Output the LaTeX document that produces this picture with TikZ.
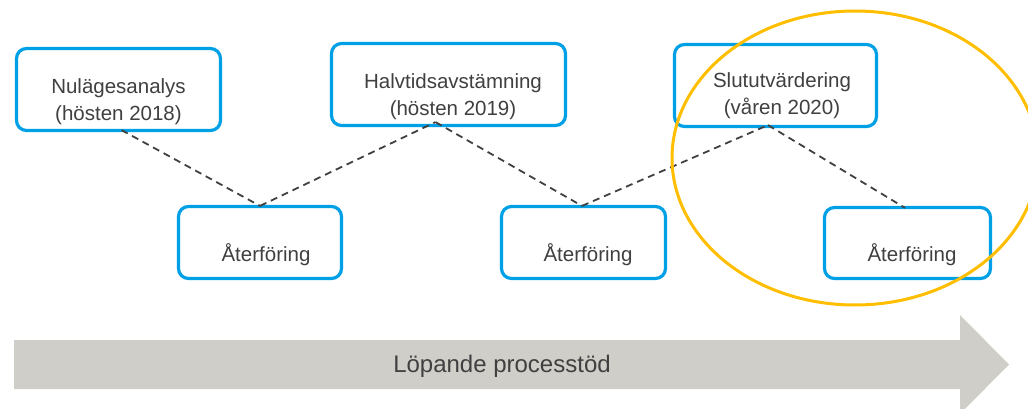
\documentclass[tikz,border=0pt]{standalone}
\usepackage{fontspec}
\setmainfont{Liberation Sans}
\usetikzlibrary{calc}
\definecolor{boxblue}{RGB}{0,160,230}
\definecolor{txtgray}{RGB}{64,64,64}
\definecolor{arrowgray}{RGB}{208,206,201}
\definecolor{ringyellow}{RGB}{255,190,0}
\tikzset{
  phase/.style={draw=boxblue, line width=3.2pt, rounded corners=10pt, fill=white},
  phasetext/.style={text=txtgray, font=\fontsize{20.5}{27}\selectfont, align=center, inner sep=0pt},
  link/.style={draw=txtgray, line width=1.8pt, dash pattern=on 7pt off 5pt},
  ring/.style={draw=ringyellow, line width=3pt}
}
\begin{document}
\begin{tikzpicture}[x=1pt, y=-1pt]
\useasboundingbox (0,0) rectangle (1028,409);

% process arrow along the bottom
\fill[arrowgray] (14,340) -- (960,340) -- (960,315) -- (1009,364.5) -- (960,414) -- (960,389) -- (14,389) -- cycle;
\node[text=txtgray, font=\fontsize{24}{28}\selectfont, inner sep=0pt] (flow) at (502,366) {Löpande processtöd};

% evaluation phases (top row)
\node[phase, minimum width=204pt, minimum height=82pt,
  label={[phasetext, xshift=0pt, yshift=-12pt]center:Nulägesanalys\\(hösten 2018)}] (n1) at (118.5,89.5) {};
\node[phase, minimum width=234pt, minimum height=82pt,
  label={[phasetext, xshift=4.5pt, yshift=-12pt]center:Halvtidsavstämning\\(hösten 2019)}] (h) at (448.5,84.5) {};
\node[phase, minimum width=202pt, minimum height=82pt,
  label={[phasetext, xshift=6.5pt, yshift=-10.5pt]center:Slututvärdering\\(våren 2020)}] (s) at (775.5,85.5) {};

% feedback steps (bottom row)
\node[phase, minimum width=163pt, minimum height=72pt,
  label={[phasetext, xshift=6pt, yshift=-12.5pt]center:Återföring}] (a1) at (260,242.5) {};
\node[phase, minimum width=164pt, minimum height=72pt,
  label={[phasetext, xshift=4.5pt, yshift=-12.5pt]center:Återföring}] (a2) at (583.5,242.5) {};
\node[phase, minimum width=166pt, minimum height=71pt,
  label={[phasetext, xshift=4.5pt, yshift=-12pt]center:Återföring}] (a3) at (907.5,243) {};

% dashed zigzag links
\draw[link] ([xshift=3pt, yshift=2pt]n1.south) -- ([yshift=-1pt]a1.north);
\draw[link] ([yshift=-1pt]a1.north) -- ([xshift=-13pt, yshift=5pt]h.south);
\draw[link] ([xshift=-13pt, yshift=5pt]h.south) -- ([xshift=-1.5pt, yshift=-1pt]a2.north);
\draw[link] ([xshift=-1.5pt, yshift=-1pt]a2.north) -- ([xshift=-7.5pt, yshift=3pt]s.south);
\draw[link] ([xshift=-7.5pt, yshift=3pt]s.south) -- ([xshift=-2.5pt, yshift=-2pt]a3.north);

% highlight ring around the final phase
\draw[ring] (855,158) ellipse [x radius=183pt, y radius=147pt];
\end{tikzpicture}
\end{document}
